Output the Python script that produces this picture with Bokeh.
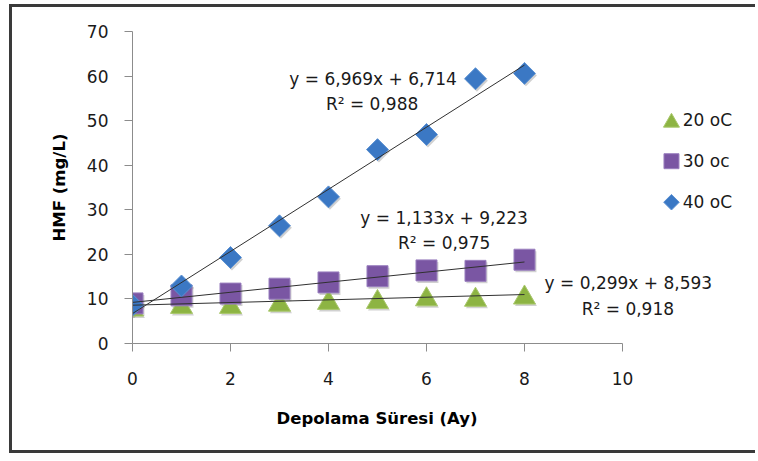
from bokeh.plotting import figure
from bokeh.models import (ColumnDataSource, Label, Title, FixedTicker, Range1d)
from bokeh.core.properties import value
from bokeh.transform import dodge
from bokeh.embed import file_html
from bokeh.resources import INLINE

# ---- data ----
months = [0, 1, 2, 3, 4, 5, 6, 7, 8]
hmf_20 = [8.3, 8.9, 8.9, 9.4, 9.8, 10.0, 10.6, 10.5, 11.0]
hmf_30 = [9.0, 10.8, 11.2, 12.3, 13.7, 15.1, 16.4, 16.3, 18.8]
hmf_40 = [8.6, 12.9, 19.3, 26.4, 32.9, 43.5, 46.9, 59.4, 60.6]
series_names = ["20 oC", "30 oc", "40 oC"]
slopes = [0.299, 1.133, 6.969]
intercepts = [8.593, 9.223, 6.714]
r_squared = [0.918, 0.975, 0.988]
x_ticks = [0, 2, 4, 6, 8, 10]
y_ticks = [0, 10, 20, 30, 40, 50, 60, 70]
x_axis_bounds = (0, 10)
x_title = "Depolama Süresi (Ay)"
y_title = "HMF (mg/L)"

FONT = "DejaVu Sans"

# frame extends to the right edge (for legend / labels); axis spans only 0..10
X_VIEW_END = 12.776

p = figure(width=746, height=449, x_range=Range1d(0, X_VIEW_END), y_range=Range1d(0, 70),
           output_backend="svg", toolbar_location=None,
           min_border_left=120, min_border_right=0,
           min_border_top=24, min_border_bottom=113)
p.styles = {"border-left": "3px solid #3a3a3a", "border-top": "3px solid #3a3a3a",
            "border-bottom": "3px solid #3a3a3a",
            "margin-left": "9px", "margin-top": "4px"}
p.xgrid.visible = False
p.ygrid.visible = False
p.outline_line_color = None

for ax in (p.xaxis[0], p.yaxis[0]):
    ax.axis_line_color = "#8c8c8c"
    ax.major_tick_line_color = "#8c8c8c"
    ax.minor_tick_line_color = None
    ax.major_tick_in = 0
    ax.major_tick_out = 8
    ax.major_label_text_font = FONT
    ax.major_label_text_font_size = "17px"
    ax.major_label_text_color = "#1a1a1a"

p.xaxis.bounds = x_axis_bounds
p.xaxis.ticker = FixedTicker(ticks=x_ticks)
p.yaxis.ticker = FixedTicker(ticks=y_ticks)
p.xaxis.major_label_standoff = 20
p.yaxis.major_label_standoff = 16

# axis titles (x title centred under the 0..10 axis, not the whole frame)
p.add_layout(Title(text=x_title, align="left", offset=144, standoff=38,
                   text_font=FONT, text_font_style="bold", text_font_size="16.5px",
                   text_color="#000000"), "below")
p.add_layout(Title(text=y_title, align="center", standoff=30,
                   text_font=FONT, text_font_style="bold", text_font_size="16.5px",
                   text_color="#000000"), "left")

src = ColumnDataSource(dict(x=months, y20=hmf_20, y30=hmf_30, y40=hmf_40))

shadow = dict(fill_color="#000000", fill_alpha=0.18, line_color=None)
sx = dodge("x", 0.03, range=p.x_range)
TRI_SHIFT = -0.72  # centre the triangle's bounding box on the value

# shadows
p.scatter(x=sx, y=dodge("y20", TRI_SHIFT - 0.45, range=p.y_range), source=src,
          marker="triangle", size=22, **shadow)
p.scatter(x=sx, y=dodge("y30", -0.45, range=p.y_range), source=src,
          marker="square", size=21, **shadow)
p.scatter(x=sx, y=dodge("y40", -0.45, range=p.y_range), source=src,
          marker="square", angle=0.785398, size=15.5, **shadow)

styles = [
    dict(marker="triangle", size=22, fill_color="#8db443", line_color="#a9c86b"),
    dict(marker="square", size=21, fill_color="#7a56a3", line_color="#9b80bf"),
    dict(marker="square", angle=0.785398, size=15.5, fill_color="#3b78c4",
         line_color="#5a90d2"),
]
p.scatter(x="x", y=dodge("y20", TRI_SHIFT, range=p.y_range), source=src,
          line_width=1, **styles[0])
p.scatter(x="x", y="y30", source=src, line_width=1, **styles[1])
p.scatter(x="x", y="y40", source=src, line_width=1, **styles[2])

# trendlines
x0, x1 = min(months), max(months)
for m, b in zip(slopes, intercepts):
    p.line(x=[x0, x1], y=[m * x0 + b, m * x1 + b], line_color="#303030", line_width=1)


def fmt(v):
    return f"{v:.3f}".replace(".", ",")


# equation label placements (x, y) for 20, 30, 40
eq_pos = [(10.12, 13.5), (6.36, 28.1), (4.91, 59.3)]
r2_pos = [(10.11, 7.7), (6.36, 22.5), (4.89, 53.7)]
for m, b, r2, ep, rp in zip(slopes, intercepts, r_squared, eq_pos, r2_pos):
    p.add_layout(Label(x=ep[0], y=ep[1], text=f"y = {fmt(m)}x + {fmt(b)}",
                       text_align="center", text_baseline="middle",
                       text_font=FONT, text_font_size="17px", text_color="#1a1a1a"))
    p.add_layout(Label(x=rp[0], y=rp[1], text=f"R² = {fmt(r2)}",
                       text_align="center", text_baseline="middle",
                       text_font=FONT, text_font_size="17px", text_color="#1a1a1a"))

# legend (drawn by hand so the diamond keeps its shape)
LEG_X = 11.0
LEG_TEXT_X = 11.23
LEG_Y = [50.1, 40.9, 31.7]
leg_sizes = [16, 15, 11]
for i, st in enumerate(styles):
    st = dict(st)
    st["size"] = leg_sizes[i]
    shift = TRI_SHIFT * leg_sizes[i] / 22 if st["marker"] == "triangle" else 0
    p.scatter(x=[LEG_X], y=[LEG_Y[i] + shift], line_width=1, **st)
p.text(x=[LEG_TEXT_X] * 3, y=LEG_Y, text=series_names, text_font=value(FONT),
       text_font_size=value("17px"), text_baseline="middle", text_align="left",
       text_color="#1a1a1a")

open("out.html", "w").write(file_html(p, INLINE))
